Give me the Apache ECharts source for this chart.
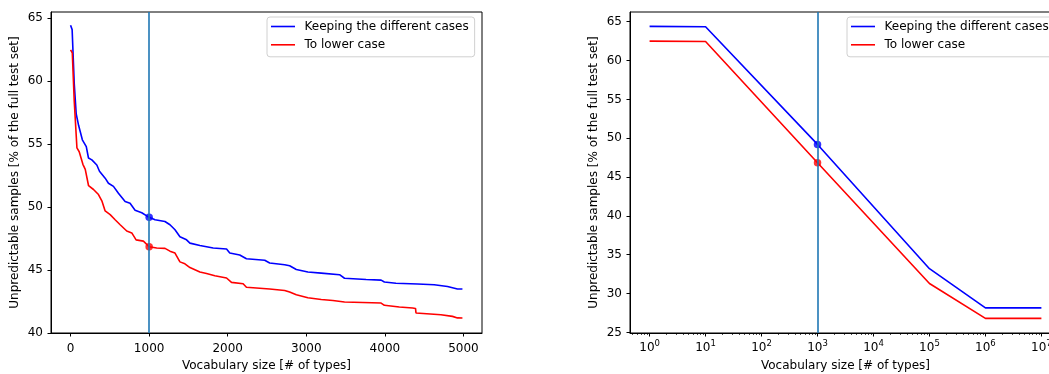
<!DOCTYPE html>
<html><head><meta charset="utf-8">
<script src="https://cdn.jsdelivr.net/npm/echarts@6/dist/echarts.min.js"></script>
<style>html,body{margin:0;padding:0;background:#fff}#c{width:1049px;height:374px}</style>
</head><body><div id="c"></div>
<script>
const seriesNames = ['Keeping the different cases', 'To lower case'];
const xName = 'Vocabulary size [# of types]';
const yName = 'Unpredictable samples [% of the full test set]';

const keepX = [0,20,47,72,102,150,200,228,271,334,368,440,482,546,609,694,757,821,906,969,1000,1075,1096,1201,1265,1329,1392,1476,1519,1646,1815,1985,2026,2153,2238,2471,2534,2725,2788,2873,3020,3190,3423,3486,3761,3952,3994,4141,4416,4628,4797,4924,4987];
const keepY = [64.45,64.1,59.8,57.4,56.5,55.35,54.8,53.9,53.75,53.35,52.85,52.3,51.9,51.65,51.1,50.45,50.3,49.75,49.55,49.3,49.2,49.0,48.86,48.86,48.6,48.2,47.65,47.4,47.14,46.95,46.75,46.67,46.35,46.2,45.9,45.78,45.56,45.42,45.34,45.05,44.84,44.76,44.63,44.35,44.25,44.2,44.05,43.95,43.89,43.83,43.7,43.5,43.49];
const lowerX = [0,22,47,81,110,157,187,229,292,355,398,440,504,567,631,715,779,834,927,1000,1096,1202,1265,1329,1392,1455,1519,1646,1730,1836,1858,1985,2048,2196,2238,2534,2725,2788,2873,3020,3190,3338,3486,3952,3994,4184,4353,4390,4396,4713,4860,4924,4987];
const lowerY = [62.5,62.25,58.4,54.7,54.4,53.4,53.0,51.7,51.4,51.0,50.5,49.7,49.4,49.0,48.6,48.1,47.95,47.4,47.3,46.85,46.75,46.72,46.5,46.35,45.65,45.5,45.2,44.85,44.72,44.55,44.4,44.37,44.02,43.91,43.63,43.5,43.38,43.25,43.04,42.8,42.66,42.58,42.46,42.38,42.2,42.06,41.98,41.95,41.59,41.45,41.32,41.2,41.19];

const logX = [1, 10, 1000, 100000, 1000000, 10000000];
const logKeep = [64.4, 64.35, 49.2, 33.2, 28.15, 28.15];
const logLower = [62.5, 62.45, 46.85, 31.3, 26.8, 26.8];

const markerX = 1000;
const markerKeep = 49.2;
const markerLower = 46.85;

const linTicksX = [0, 1000, 2000, 3000, 4000, 5000];
const linTicksY = [40, 45, 50, 55, 60, 65];
const logTicksX = [1, 10, 100, 1000, 10000, 100000, 1000000, 10000000];
const logTicksY = [25, 30, 35, 40, 45, 50, 55, 60, 65];

const minorLogTicks = [];
for (let k = -1; k <= 7; k++) {
  for (let m = 2; m <= 9; m++) {
    const v = m * Math.pow(10, k);
    if (v > 0.4467 && v < 2.239e7) minorLogTicks.push(+v.toPrecision(6));
  }
}

const FONT = 'DejaVu Sans';
const TXT = '#000';
const FS = 12;
const pairs = (xs, ys) => xs.map((x, i) => [x, ys[i]]);

const tickStyle = { color: '#000', width: 1 };
const labelBase = { fontSize: FS, color: TXT, fontFamily: FONT };

const option = {
  animation: false,
  backgroundColor: '#fff',
  grid: [
    { left: 51, top: 12, width: 431, height: 321, outerBoundsMode: 'none', containLabel: false, show: true, borderColor: '#000', borderWidth: 1, backgroundColor: 'transparent' },
    { left: 630, top: 12, width: 431, height: 321, outerBoundsMode: 'none', containLabel: false, show: true, borderColor: '#000', borderWidth: 1, backgroundColor: 'transparent' }
  ],
  xAxis: [
    {
      type: 'value', gridIndex: 0, position: 'bottom', min: -249, max: 5236,
      axisLine: { show: true, onZero: false, lineStyle: tickStyle },
      axisTick: { show: true, customValues: linTicksX, length: 3.5, lineStyle: tickStyle },
      axisLabel: Object.assign({ customValues: linTicksX, margin: 10, formatter: v => String(v) }, labelBase),
      splitLine: { show: false },
      name: xName, nameLocation: 'middle', nameGap: 21, nameTextStyle: labelBase
    },
    {
      type: 'log', logBase: 10, gridIndex: 1, position: 'bottom', min: 0.4467, max: 2.239e7,
      axisLine: { show: true, onZero: false, lineStyle: tickStyle },
      axisTick: { show: true, customValues: logTicksX, length: 3.5, lineStyle: tickStyle },
      axisLabel: {
        customValues: logTicksX, margin: 6,
        formatter: v => '{b|10}{e|' + Math.round(Math.log10(v)) + '}',
        rich: {
          b: { fontSize: FS, fontFamily: FONT, color: TXT, lineHeight: 15, verticalAlign: 'bottom' },
          e: { fontSize: 8.5, fontFamily: FONT, color: TXT, lineHeight: 15, verticalAlign: 'top' }
        }
      },
      splitLine: { show: false },
      name: xName, nameLocation: 'middle', nameGap: 27, nameTextStyle: labelBase
    },
    {
      type: 'log', logBase: 10, gridIndex: 1, position: 'bottom', offset: 0, min: 0.4467, max: 2.239e7,
      axisLine: { show: false, onZero: false },
      axisTick: { show: true, customValues: minorLogTicks, length: 2, lineStyle: { color: '#000', width: 0.7 } },
      axisLabel: { show: false },
      splitLine: { show: false }
    }
  ],
  yAxis: [
    {
      type: 'value', gridIndex: 0, min: 40, max: 65.5,
      axisLine: { show: true, onZero: false, lineStyle: tickStyle },
      axisTick: { show: true, customValues: linTicksY, length: 3.5, lineStyle: tickStyle },
      axisLabel: Object.assign({ customValues: linTicksY, margin: 8 }, labelBase),
      splitLine: { show: false },
      name: yName, nameLocation: 'middle', nameGap: 30, nameTextStyle: labelBase
    },
    {
      type: 'value', gridIndex: 1, min: 24.92, max: 66.25,
      axisLine: { show: true, onZero: false, lineStyle: tickStyle },
      axisTick: { show: true, customValues: logTicksY, length: 3.5, lineStyle: tickStyle },
      axisLabel: Object.assign({ customValues: logTicksY, margin: 8 }, labelBase),
      splitLine: { show: false },
      name: yName, nameLocation: 'middle', nameGap: 30, nameTextStyle: labelBase
    }
  ],
  legend: [0, 1].map(i => ({
    data: seriesNames,
    left: i === 0 ? 267 : 847, top: 17,
    orient: 'vertical', selectedMode: false,
    icon: 'rect', itemWidth: 24, itemHeight: 1.6, itemGap: 4.3,
    padding: [2.5, 6, 5, 4],
    borderColor: '#d0d0d0', borderWidth: 1, borderRadius: 3,
    backgroundColor: 'rgba(255,255,255,0.8)',
    textStyle: { fontSize: FS, color: TXT, fontFamily: FONT, lineHeight: 14, padding: [0, 0, 0, 4.5] }
  })),
  series: []
};

const gridSets = [
  { xi: 0, yi: 0, keep: pairs(keepX, keepY), lower: pairs(lowerX, lowerY) },
  { xi: 1, yi: 1, keep: pairs(logX, logKeep), lower: pairs(logX, logLower) }
];
gridSets.forEach(g => {
  option.series.push(
    { name: seriesNames[0], type: 'line', xAxisIndex: g.xi, yAxisIndex: g.yi, data: g.keep, symbol: 'none', color: '#0000ff', lineStyle: { color: '#0000ff', width: 1.6 }, z: 2 },
    { name: seriesNames[1], type: 'line', xAxisIndex: g.xi, yAxisIndex: g.yi, data: g.lower, symbol: 'none', color: '#ff0000', lineStyle: { color: '#ff0000', width: 1.6 }, z: 2 },
    { name: 'vline', type: 'line', xAxisIndex: g.xi, yAxisIndex: g.yi, data: [], z: 3,
      markLine: { silent: true, symbol: ['none', 'none'], label: { show: false },
        lineStyle: { color: '#1f77b4', width: 1.6, type: 'solid' }, data: [{ xAxis: markerX }] } },
    { name: 'mk1', type: 'scatter', xAxisIndex: g.xi, yAxisIndex: g.yi, data: [[markerX, markerKeep]], symbolSize: 7.5, itemStyle: { color: '#0000ff' }, z: 4 },
    { name: 'mk2', type: 'scatter', xAxisIndex: g.xi, yAxisIndex: g.yi, data: [[markerX, markerLower]], symbolSize: 7.5, itemStyle: { color: '#ff0000' }, z: 4 }
  );
});

const chart = echarts.init(document.getElementById('c'), null, { renderer: 'canvas' });
chart.setOption(option);
</script></body></html>
